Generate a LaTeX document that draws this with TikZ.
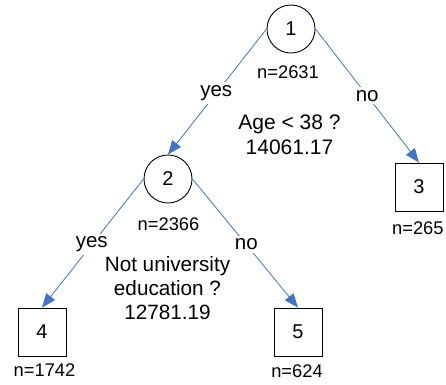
\documentclass[tikz,border=0pt]{standalone}
\usepackage{fontspec}
\setmainfont{Liberation Sans}
\usetikzlibrary{arrows.meta}
\definecolor{edgeblue}{HTML}{4472C4}
\begin{document}
\begin{tikzpicture}[x=1pt,y=-1pt,
  split/.style={circle,draw,line width=0.9pt,minimum size=48pt,inner sep=0pt,
    font=\fontsize{20}{24}\selectfont},
  leaf/.style={rectangle,draw,line width=0.9pt,minimum size=48pt,inner sep=0pt,
    font=\fontsize{20}{24}\selectfont},
  count/.style={inner sep=0pt,font=\fontsize{18.3}{21}\selectfont},
  question/.style={align=center,inner sep=0pt},
  branch/.style={draw=edgeblue,line width=0.8pt,
    -{Triangle[length=14pt,width=11pt,fill=edgeblue]}},
  answer/.style={fill=white,inner sep=3pt,font=\fontsize{20.5}{24}\selectfont}]

% canvas
\fill[white] (0,0) rectangle (446,384);
\useasboundingbox (0,0) rectangle (446,384);

% split nodes
\node[split] (c1) at (291,29) {1};
\node[split] (c2) at (168,179) {2};

% terminal nodes
\node[leaf] (b3) at (419,187) {3};
\node[leaf] (b4) at (42,332) {4};
\node[leaf] (b5) at (298,332) {5};

% sample sizes
\node[count] (n1) at (288,72.5) {n=2631};
\node[count] (n2) at (168.5,224) {n=2366};
\node[count,anchor=west] (n3) at (392,228.5) {n=265};
\node[count] (n4) at (44.5,370.5) {n=1742};
\node[count] (n5) at (297,371.5) {n=624};

% split questions and deviance
\node[question,font=\fontsize{21}{25}\selectfont] (q1) at (289.5,135)
  {Age < 38 ?\\14061.17};
\node[question,font=\fontsize{20.7}{24}\selectfont] (q2) at (167.5,288.5)
  {Not university\\education ?\\12781.19};

% branches
\draw[branch] (c1.west) -- node[answer,pos=0.51] (y1) {yes} (c2.north);
\draw[branch] (c1.east) -- node[answer,pos=0.5] (o1) {no} (b3.north);
\draw[branch] (c2.west) -- node[answer,pos=0.51] (y2) {yes} (b4.north);
\draw[branch] (c2.east) -- node[answer,pos=0.51] (o2) {no} (b5.north);
\end{tikzpicture}
\end{document}
